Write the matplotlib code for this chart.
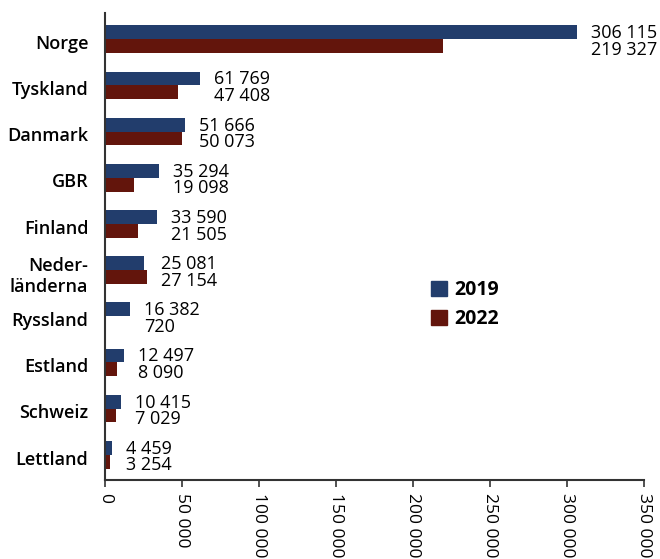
import matplotlib as mpl
mpl.use('Agg')
import matplotlib.pyplot as plt
import matplotlib.patches as mpatches
import numpy as np

plt.rcParams['font.family'] = ['Open Sans', 'DejaVu Sans']

# data
countries = ['Norge', 'Tyskland', 'Danmark', 'GBR', 'Finland',
             'Neder-\nländerna', 'Ryssland', 'Estland', 'Schweiz', 'Lettland']
v2019 = [306115, 61769, 51666, 35294, 33590, 25081, 16382, 12497, 10415, 4459]
v2022 = [219327, 47408, 50073, 19098, 21505, 27154, 720, 8090, 7029, 3254]
xticks = [0, 50000, 100000, 150000, 200000, 250000, 300000, 350000]

blue = '#223d6c'
red = '#63150c'

def fmt(v):
    return '{:,}'.format(v).replace(',', ' ')

fig = plt.figure(figsize=(6.6, 5.59), dpi=100)
ax = fig.add_axes([0.159, 0.141, 0.817, 0.836])

y = np.arange(len(countries))
h = 0.30
ax.barh(y - h/2, v2019, height=h, color=blue)
ax.barh(y + h/2, v2022, height=h, color=red)

# value labels next to each pair
px = 350000 / 539.0
for i in range(len(countries)):
    xm = max(v2019[i], v2022[i]) + 14 * px
    ax.text(xm, i - h/2 + 0.02, fmt(v2019[i]), va='center', ha='left', fontsize=13)
    ax.text(xm, i + h/2 + 0.08, fmt(v2022[i]), va='center', ha='left', fontsize=13)

ax.set_xlim(0, 350000)
ax.set_ylim(9.55, -0.57)
ax.set_yticks(y + 0.06)
ax.set_yticklabels(countries, fontsize=13, fontweight='semibold', ha='right')
ax.tick_params(axis='y', length=0, pad=12)
ax.set_xticks(xticks)
ax.set_xticklabels([fmt(t) for t in xticks], rotation=270, fontsize=12.5, va='top', ha='center')
ax.tick_params(axis='x', direction='out', length=5, width=1.2, color='#333333', pad=4)

for s in ['top', 'right']:
    ax.spines[s].set_visible(False)
for s in ['left', 'bottom']:
    ax.spines[s].set_color('#333333')
    ax.spines[s].set_linewidth(1.5)

handles = [mpatches.Patch(color=blue, label='2019'),
           mpatches.Patch(color=red, label='2022')]
fig.legend(handles=handles, loc='upper left', bbox_to_anchor=(0.627, 0.53),
           frameon=False, prop={'weight': 'bold', 'size': 14},
           handlelength=0.8, handleheight=0.8, handletextpad=0.4, labelspacing=0.45)

fig.savefig('out.png', dpi=100)
